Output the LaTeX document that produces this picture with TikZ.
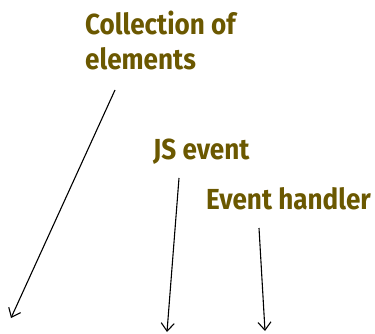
\documentclass[tikz,border=0pt]{standalone}
\usepackage{fontspec}
\setmainfont{Fira Sans}
\usetikzlibrary{arrows.meta}
\definecolor{labelcol}{HTML}{6B5800}
\tikzset{
  lbl/.style={anchor=base west, inner sep=0pt, text=labelcol, font=\bfseries\fontsize{29}{31}\selectfont},
  pointer/.style={line width=1.1pt, -{Straight Barb[length=8pt, width=13pt, line width=1.1pt]}}
}
\begin{document}
\begin{tikzpicture}[x=1pt, y=-1pt]
\useasboundingbox (0,0) rectangle (375,334);
\node[lbl] (coll) at (85,35) {\scalebox{0.9}[1]{Collection of}};
\node[lbl] (elem) at (85,70) {\scalebox{0.9}[1]{elements}};
\node[lbl] (js) at (153,160) {\scalebox{0.9}[1]{JS event}};
\node[lbl] (hand) at (206,210) {\scalebox{0.9}[1]{Event handler}};
\coordinate (s1) at (115,90);
\coordinate (e1) at (11,318);
\coordinate (s2) at (179,178);
\coordinate (e2) at (167,332);
\coordinate (s3) at (259,228);
\coordinate (e3) at (265,331);
\draw[pointer] (s1) -- (e1);
\draw[pointer] (s2) -- (e2);
\draw[pointer] (s3) -- (e3);
\end{tikzpicture}
\end{document}
